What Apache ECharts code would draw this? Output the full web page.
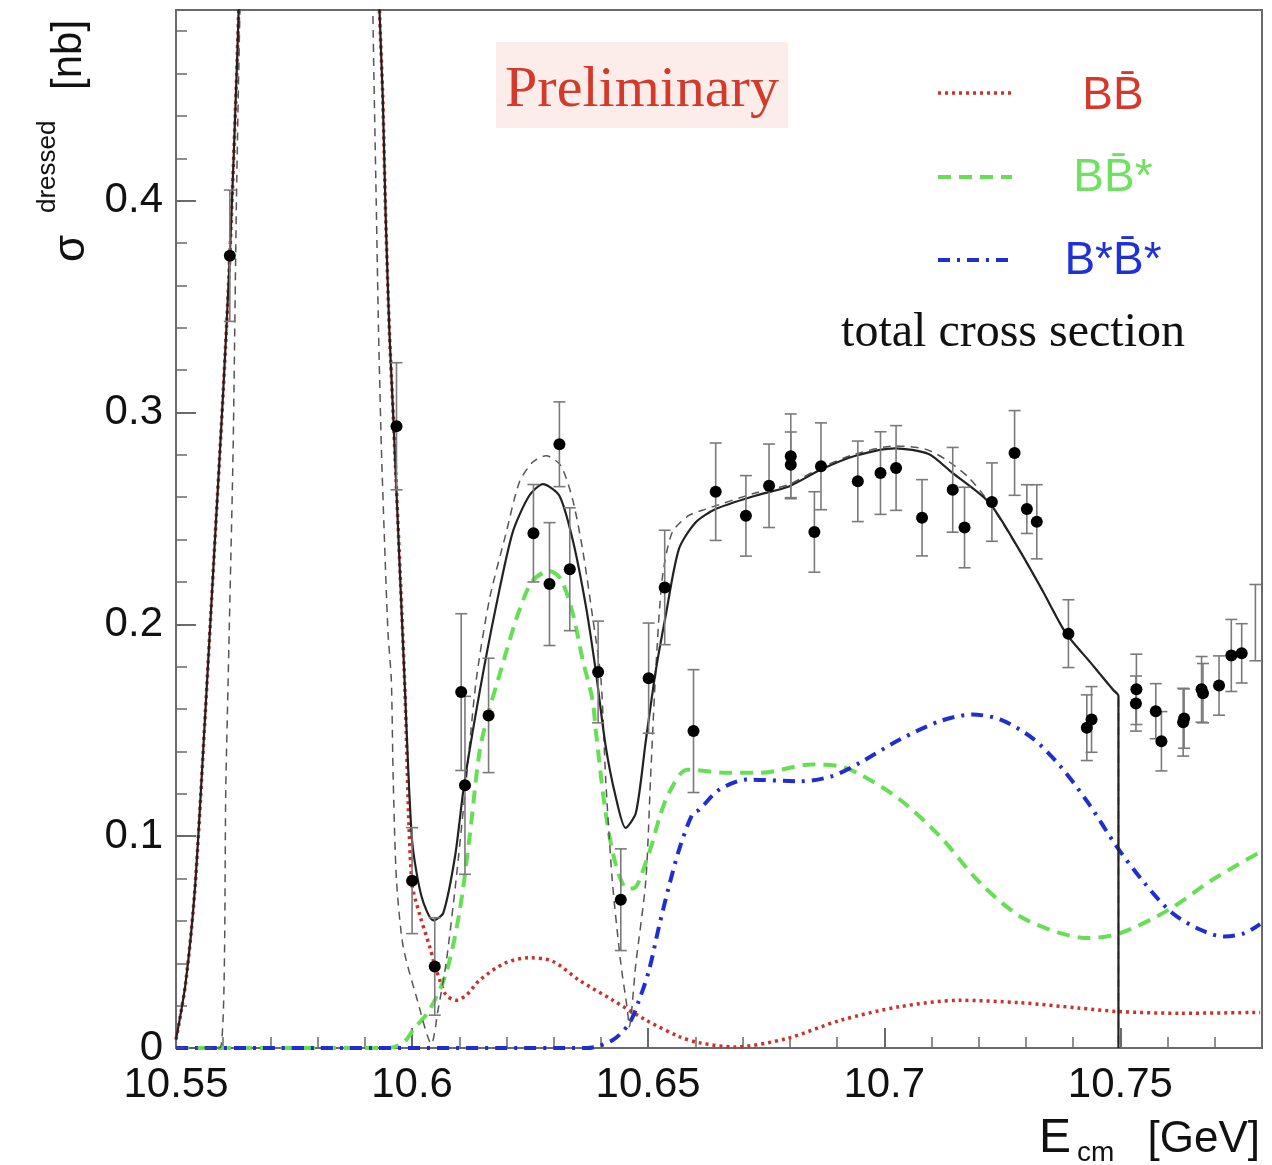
<!DOCTYPE html>
<html>
<head>
<meta charset="utf-8">
<script src="https://cdn.jsdelivr.net/npm/echarts@6/dist/echarts.min.js"></script>
<style>
html,body{margin:0;padding:0;background:#fff;}
#c{width:1272px;height:1165px;}
</style>
</head>
<body>
<div id="c"></div>
<script>
// ---------- data ----------
const xTickLabels = [10.55, 10.6, 10.65, 10.7, 10.75];
const yTickLabels = [0, 0.1, 0.2, 0.3, 0.4];

// B Bbar (red dotted)
const redE = [10.5500,10.5520,10.5540,10.5560,10.5580,10.5600,10.5614,10.5630,10.5650,10.5700,10.5790,10.5880,10.5920,10.5931,10.5938,10.5944,10.5952,10.5961,10.5984,10.5999,10.6016,10.6037,10.6048,10.6062,10.6072,10.6093,10.6115,10.6143,10.6196,10.6248,10.6297,10.6354,10.6424,10.6495,10.6566,10.6608,10.6682,10.6794,10.6906,10.7033,10.7160,10.7286,10.7415,10.7496,10.7627,10.7796];
const redS = [0.004,0.030,0.075,0.150,0.230,0.310,0.374,0.470,0.620,0.950,1.150,0.950,0.580,0.490,0.448,0.393,0.338,0.294,0.174,0.079,0.063,0.048,0.039,0.030,0.025,0.0225,0.025,0.032,0.040,0.0426,0.041,0.032,0.0227,0.0132,0.0054,0.0025,0.0005,0.0045,0.013,0.0195,0.0225,0.0214,0.0188,0.0172,0.0164,0.0168];

// B Bbar* (green dashed)
const greenE = [10.5500,10.5952,10.5984,10.6002,10.6037,10.6072,10.6100,10.6122,10.6143,10.6164,10.6185,10.6206,10.6227,10.6255,10.6291,10.6315,10.6340,10.6361,10.6382,10.6389,10.6410,10.6432,10.6456,10.6470,10.6481,10.6509,10.6523,10.6544,10.6583,10.6668,10.6736,10.6846,10.6906,10.6956,10.7033,10.7118,10.7203,10.7288,10.7373,10.7432,10.7500,10.7602,10.7695,10.7796];
const greenS = [0,0,0.003,0.0085,0.018,0.0353,0.0637,0.100,0.140,0.160,0.176,0.192,0.2065,0.2205,0.2252,0.2213,0.2055,0.1835,0.1645,0.150,0.111,0.086,0.0752,0.0755,0.079,0.097,0.108,0.1204,0.1314,0.1299,0.1299,0.1338,0.133,0.1283,0.1173,0.0999,0.0779,0.0621,0.0542,0.0519,0.0542,0.0652,0.0794,0.0925];

// B* Bbar* (blue dash-dot)
const blueE = [10.5500,10.6370,10.6425,10.6460,10.6481,10.6502,10.6523,10.6544,10.6566,10.6594,10.6608,10.6651,10.6710,10.6821,10.6889,10.6948,10.7033,10.7118,10.7186,10.7245,10.7313,10.7373,10.7432,10.7492,10.7551,10.7610,10.7670,10.7721,10.7763,10.7796];
const blueS = [0,0,0.0038,0.0117,0.0227,0.0369,0.0574,0.0763,0.094,0.1105,0.1125,0.122,0.1267,0.1259,0.1283,0.1346,0.1456,0.1543,0.1574,0.1551,0.1464,0.133,0.1157,0.0952,0.0779,0.0637,0.0558,0.0526,0.0542,0.0585];

// total cross section fit (black solid)
const totalE = [10.5500,10.5520,10.5540,10.5560,10.5580,10.5600,10.5614,10.5630,10.5650,10.5700,10.5790,10.5880,10.5920,10.5931,10.5938,10.5944,10.5952,10.5961,10.5984,10.6000,10.6020,10.6045,10.6066,10.6091,10.6110,10.6143,10.6178,10.6213,10.6248,10.6277,10.6312,10.6340,10.6368,10.6389,10.6410,10.6431,10.6452,10.6474,10.6495,10.6516,10.6537,10.6565,10.6600,10.6643,10.6727,10.6798,10.6868,10.6939,10.7023,10.7094,10.7143,10.7222,10.7285,10.7335,10.7384,10.7440,10.7485,10.7496,10.7496];
const totalS = [0.004,0.030,0.075,0.150,0.230,0.310,0.374,0.470,0.620,0.950,1.150,0.950,0.580,0.490,0.448,0.393,0.338,0.294,0.174,0.098,0.0715,0.0602,0.0637,0.0905,0.124,0.168,0.2087,0.2434,0.2607,0.2662,0.2607,0.240,0.2087,0.178,0.1425,0.1188,0.1039,0.111,0.145,0.178,0.204,0.2355,0.248,0.2544,0.2607,0.2651,0.2733,0.2796,0.2831,0.2804,0.2717,0.2575,0.2355,0.2160,0.1961,0.1811,0.1690,0.1661,0];

// alternative fit (thin dashed)
const altE = [10.5500,10.5593,10.5606,10.5613,10.5621,10.5628,10.5635,10.5650,10.5700,10.5790,10.5880,10.5914,10.5917,10.5924,10.5929,10.5935,10.5941,10.5949,10.5956,10.5960,10.5967,10.5981,10.6009,10.6041,10.6055,10.6072,10.6093,10.6115,10.6136,10.6164,10.6199,10.6227,10.6255,10.6284,10.6315,10.6340,10.6361,10.6382,10.6400,10.6410,10.6424,10.6442,10.6456,10.6460,10.6474,10.6495,10.6505,10.6516,10.6530,10.6551,10.6587,10.6622,10.6727,10.6798,10.6868,10.6939,10.7023,10.7087,10.7129,10.7178,10.7222,10.7285,10.7335,10.7384,10.7440,10.7485,10.7496,10.7496];
const altS = [0,0,0.13,0.20,0.283,0.40,0.486,0.650,0.950,1.200,0.950,0.600,0.490,0.400,0.338,0.283,0.243,0.196,0.174,0.127,0.079,0.048,0.0243,0.002,0.018,0.040,0.079,0.127,0.174,0.212,0.243,0.267,0.2765,0.2796,0.2749,0.259,0.2355,0.204,0.174,0.127,0.079,0.040,0.018,0.010,0.040,0.079,0.127,0.178,0.222,0.2435,0.2515,0.2544,0.262,0.266,0.2742,0.2804,0.2842,0.2827,0.278,0.2695,0.2575,0.2355,0.2160,0.1961,0.1811,0.1690,0.1661,0];

// measured points with errors
const ptE   = [10.5614,10.5967,10.6000,10.6048,10.6104,10.6112,10.6162,10.6257,10.6291,10.6312,10.6334,10.6394,10.6442,10.6501,10.6535,10.6596,10.6643,10.6707,10.6756,10.6802,10.6802,10.6852,10.6866,10.6944,10.6992,10.7025,10.7080,10.7145,10.7170,10.7228,10.7276,10.7302,10.7323,10.7390,10.7429,10.7439,10.7534,10.7533,10.7575,10.7587,10.7633,10.7635,10.7672,10.7675,10.7709,10.7735,10.7757];
const ptS   = [0.374,0.2935,0.079,0.0385,0.168,0.124,0.157,0.243,0.219,0.285,0.226,0.1775,0.070,0.1746,0.2174,0.1496,0.2626,0.2512,0.2654,0.2793,0.2753,0.2436,0.2746,0.2675,0.2714,0.2738,0.2503,0.2635,0.2457,0.2577,0.2809,0.2544,0.2484,0.1956,0.1512,0.1551,0.1693,0.1626,0.159,0.1448,0.1538,0.1555,0.1693,0.1675,0.1711,0.1853,0.1863];
const ptErr = [0.031,0.030,0.025,0.023,0.037,0.042,0.027,0.023,0.029,0.020,0.029,0.024,0.024,0.026,0.027,0.029,0.023,0.019,0.0197,0.020,0.0155,0.019,0.0205,0.019,0.0195,0.020,0.018,0.020,0.019,0.0185,0.020,0.0115,0.0175,0.016,0.0155,0.0155,0.0166,0.013,0.013,0.014,0.016,0.014,0.0155,0.014,0.014,0.017,0.014];

// error bar at the right edge whose marker lies outside the frame
const edgeE = [10.7786];
const edgeS = [0.2008];
const edgeErr = [0.018];

// ---------- chart ----------
const zip = (a, b) => a.map((v, i) => [v, b[i]]);
const zip3 = (a, b, c) => a.map((v, i) => [v, b[i], c[i]]);

const C_RED = '#cc3028', C_GREEN = '#66df55', C_BLUE = '#1f2fcf';
const AX = '#6a6a6a';
const SANS = 'Liberation Sans, Arial, Helvetica, sans-serif';
const SERIF = 'Liberation Serif, Times New Roman, serif';

const isTick = (v, list) => list.some(t => Math.abs(t - v) < 1e-7);

function errRender(params, api) {
  const x = api.value(0), y = api.value(1), e = api.value(2);
  const t = api.coord([x, y + e]);
  const b = api.coord([x, y - e]);
  const hw = 6;
  const st = {stroke: '#7a7a7a', lineWidth: 1.6};
  return {type: 'group', children: [
    {type: 'line', shape: {x1: t[0], y1: t[1], x2: b[0], y2: b[1]}, style: st},
    {type: 'line', shape: {x1: t[0] - hw, y1: t[1], x2: t[0] + hw, y2: t[1]}, style: st},
    {type: 'line', shape: {x1: b[0] - hw, y1: b[1], x2: b[0] + hw, y2: b[1]}, style: st}
  ]};
}

const chart = echarts.init(document.getElementById('c'), null, {renderer: 'canvas'});

const option = {
  animation: false,
  backgroundColor: '#ffffff',
  grid: {left: 176, top: 10, right: 10, bottom: 117, show: true, borderColor: AX, borderWidth: 2, containLabel: false},
  xAxis: [
    {type: 'value', min: 10.55, max: 10.78, interval: 0.05, position: 'bottom',
     axisLine: {show: true, onZero: false, lineStyle: {color: AX, width: 2}},
     axisTick: {show: true, inside: true, length: 20, lineStyle: {color: AX, width: 2}},
     axisLabel: {show: true, margin: 16, fontSize: 42, fontFamily: SANS, color: '#111',
       formatter: v => isTick(v, xTickLabels) ? String(Math.round(v * 100) / 100) : ''},
     splitLine: {show: false}},
    {type: 'value', min: 10.55, max: 10.78, interval: 0.01, position: 'bottom',
     axisLine: {show: false, onZero: false},
     axisTick: {show: true, inside: true, length: 11, lineStyle: {color: AX, width: 1.5}},
     axisLabel: {show: false}, splitLine: {show: false}}
  ],
  yAxis: [
    {type: 'value', min: 0, max: 0.49, interval: 0.1, position: 'left',
     axisLine: {show: true, onZero: false, lineStyle: {color: AX, width: 2}},
     axisTick: {show: true, inside: true, length: 20, lineStyle: {color: AX, width: 2}},
     axisLabel: {show: true, margin: 13, fontSize: 42, fontFamily: SANS, color: '#111',
       formatter: v => isTick(v, yTickLabels) ? String(Math.round(v * 10) / 10) : ''},
     splitLine: {show: false}},
    {type: 'value', min: 0, max: 0.49, interval: 0.02, position: 'left',
     axisLine: {show: false, onZero: false},
     axisTick: {show: true, inside: true, length: 11, lineStyle: {color: AX, width: 1.5}},
     axisLabel: {show: false}, splitLine: {show: false}}
  ],
  series: [
    {name: 'BB̄', type: 'line', data: zip(redE, redS), showSymbol: false, smooth: 0.3, clip: true, z: 3,
     lineStyle: {color: C_RED, width: 3.5, type: [3, 4]}},
    {name: 'BB̄*', type: 'line', data: zip(greenE, greenS), showSymbol: false, smooth: 0.3, clip: true, z: 3,
     lineStyle: {color: C_GREEN, width: 4, type: [13, 8]}},
    {name: 'B*B̄*', type: 'line', data: zip(blueE, blueS), showSymbol: false, smooth: 0.3, clip: true, z: 3,
     lineStyle: {color: C_BLUE, width: 4, type: [12, 7, 3, 7]}},
    {name: 'alt', type: 'line', data: zip(altE, altS), showSymbol: false, smooth: 0.25, clip: true, z: 4,
     lineStyle: {color: '#555', width: 1.5, type: [8, 6]}},
    {name: 'total', type: 'line', data: zip(totalE, totalS), showSymbol: false, smooth: 0.25, clip: true, z: 5,
     lineStyle: {color: '#222', width: 2.2}},
    {name: 'err', type: 'custom', data: zip3(ptE, ptS, ptErr), renderItem: errRender, clip: true, z: 6},
    {name: 'errEdge', type: 'custom', data: zip3(edgeE, edgeS, edgeErr), renderItem: errRender, clip: true, z: 6},
    {name: 'data', type: 'scatter', data: zip(ptE, ptS), symbol: 'circle', symbolSize: 12, clip: true, z: 7,
     itemStyle: {color: '#000', opacity: 1}}
  ],
  graphic: [
    // y axis title
    {type: 'text', x: 72, y: 262, rotation: Math.PI / 2, style: {text: 'σ', font: '44px ' + SANS, fill: '#111', align: 'left', verticalAlign: 'middle'}},
    {type: 'text', x: 48, y: 213, rotation: Math.PI / 2, style: {text: 'dressed', font: '26px ' + SANS, fill: '#111', align: 'left', verticalAlign: 'middle'}},
    {type: 'text', x: 69, y: 90, rotation: Math.PI / 2, style: {text: '[nb]', font: '42px ' + SANS, fill: '#111', align: 'left', verticalAlign: 'middle'}},
    // x axis title
    {type: 'text', x: 1039, y: 1139, style: {text: 'E', font: '48px ' + SANS, fill: '#111', align: 'left', verticalAlign: 'middle'}},
    {type: 'text', x: 1077, y: 1153, style: {text: 'cm', font: '28px ' + SANS, fill: '#111', align: 'left', verticalAlign: 'middle'}},
    {type: 'text', x: 1260, y: 1140, style: {text: '[GeV]', font: '44px ' + SANS, fill: '#111', align: 'right', verticalAlign: 'middle'}},
    // Preliminary
    {type: 'rect', shape: {x: 496, y: 42, width: 292, height: 86}, style: {fill: '#fcecea'}, z: 1},
    {type: 'text', x: 642, y: 91, z: 2, style: {text: 'Preliminary', font: '58px ' + SERIF, fill: '#d43a2a', align: 'center', verticalAlign: 'middle'}},
    // legend
    {type: 'line', shape: {x1: 938, y1: 93, x2: 1012, y2: 93}, style: {stroke: C_RED, lineWidth: 3.5, lineDash: [3, 4]}},
    {type: 'text', x: 1113, y: 96, style: {text: 'BB\u0304', font: '46px ' + SANS, fill: '#d8382c', align: 'center', verticalAlign: 'middle'}},
    {type: 'line', shape: {x1: 938, y1: 177, x2: 1012, y2: 177}, style: {stroke: C_GREEN, lineWidth: 4, lineDash: [13, 8]}},
    {type: 'text', x: 1113, y: 178, style: {text: 'BB\u0304*', font: '46px ' + SANS, fill: '#6fe060', align: 'center', verticalAlign: 'middle'}},
    {type: 'line', shape: {x1: 938, y1: 260, x2: 1012, y2: 260}, style: {stroke: C_BLUE, lineWidth: 4, lineDash: [12, 7, 3, 7]}},
    {type: 'text', x: 1113, y: 261, style: {text: 'B*B\u0304*', font: '46px ' + SANS, fill: '#1e30d8', align: 'center', verticalAlign: 'middle'}},
    {type: 'text', x: 1185, y: 333, style: {text: 'total cross section', font: '48px ' + SERIF, fill: '#111', align: 'right', verticalAlign: 'middle'}}
  ]
};
chart.setOption(option);
</script>
</body>
</html>
